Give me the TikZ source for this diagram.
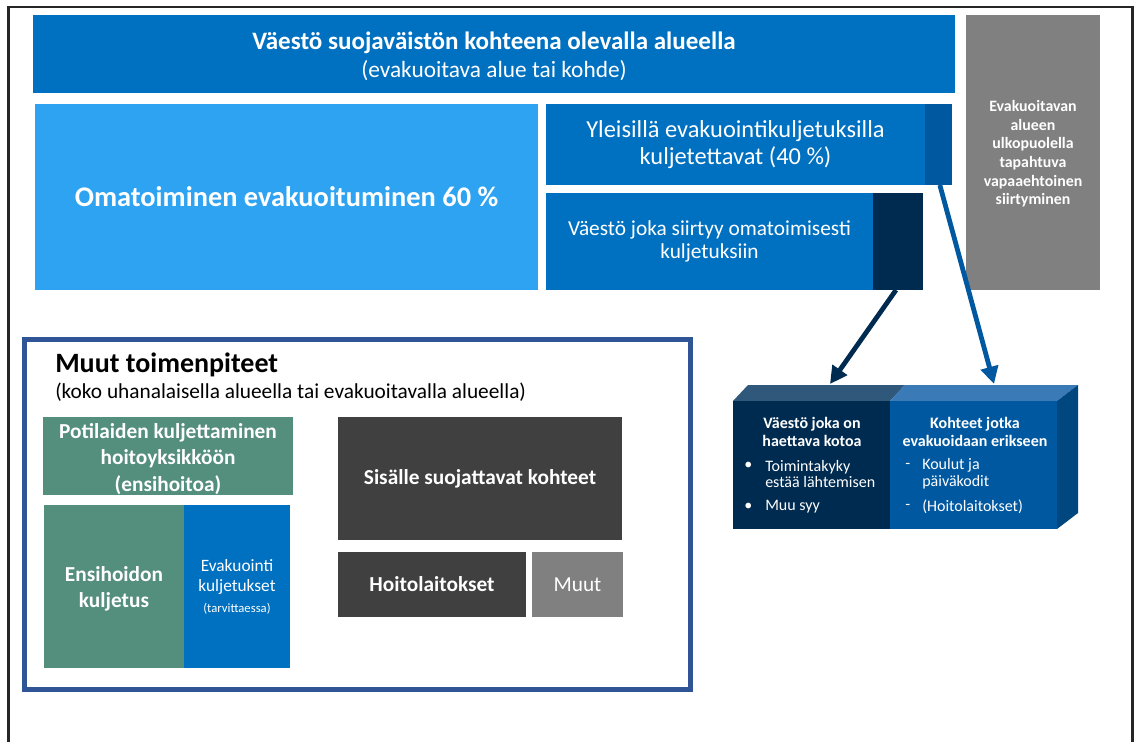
\documentclass[tikz,border=0pt]{standalone}
\usepackage{fontspec}
\setmainfont{Carlito}
\usetikzlibrary{arrows.meta}
\definecolor{cBlue}{RGB}{0,112,192}
\definecolor{cLight}{RGB}{46,163,242}
\definecolor{cStrip}{RGB}{0,88,160}
\definecolor{cNavy}{RGB}{0,43,80}
\definecolor{cGrey}{RGB}{128,128,128}
\definecolor{cFrame}{RGB}{47,85,151}
\definecolor{cGreen}{RGB}{84,142,125}
\definecolor{cDark}{RGB}{64,64,64}
\definecolor{cTopL}{RGB}{48,88,122}
\definecolor{cTopR}{RGB}{58,122,182}
\definecolor{cSide}{RGB}{0,71,127}
\begin{document}
\begin{tikzpicture}[x=0.75pt,y=-0.75pt,
  R/.style n args={4}{at={(#1,#2)},anchor=north west,minimum width=#3*0.75pt,minimum height=#4*0.75pt,inner sep=0pt,outer sep=0pt},
  boxfill/.style={fill=#1,draw=none,text=white,align=center},
  lbl/.style={text=white,align=center,inner sep=0pt},
  arr/.style={line width=3.6pt,-{Triangle[length=13pt,width=13pt]}},
  item/.style={text=white,anchor=west,inner sep=0pt,font=\fontsize{12}{12.5}\selectfont,align=left}]
\useasboundingbox (0,0) rectangle (1136,742);
\fill[white] (0,0) rectangle (1136,742);
% outer frame
\draw[line width=1.8pt,black!85] (8.5,742) -- (8.5,7) -- (1132.5,7) -- (1132.5,742);

% top banner
\node[R={33}{15}{922}{78},boxfill=cBlue] (banner) {};
\node[lbl,font=\fontsize{17.5}{21}\selectfont] (bannerText) at (494,56)
  {{\bfseries\fontsize{18.8}{21}\selectfont Väestö suojaväistön kohteena olevalla alueella}\\(evakuoitava alue tai kohde)};
% omatoiminen
\node[R={35}{104}{503}{186},boxfill=cLight,font=\bfseries\fontsize{21.3}{25}\selectfont] (oma)
  {Omatoiminen evakuoituminen 60 \%};
% yleisilla
\node[R={546}{104}{379}{81},boxfill=cBlue,font=\fontsize{18.3}{20}\selectfont] (yleis)
  {Yleisillä evakuointikuljetuksilla\\kuljetettavat (40 \%)};
\node[R={925}{104}{27}{81},boxfill=cStrip] (yleisStrip) {};
% vaesto joka siirtyy
\node[R={546}{193}{327}{97},boxfill=cBlue,font=\fontsize{16}{17}\selectfont] (siirtyy)
  {Väestö joka siirtyy omatoimisesti\\kuljetuksiin};
\node[R={873}{193}{50}{97},boxfill=cNavy] (siirtyyStrip) {};
% grey box
\node[R={966}{15}{134}{275},boxfill=cGrey] (grey) {};
\node[lbl,font=\bfseries\fontsize{11.9}{14}\selectfont] (greyText) at (1033,154)
  {Evakuoitavan\\alueen\\ulkopuolella\\tapahtuva\\vapaaehtoinen\\siirtyminen};

% Muut toimenpiteet frame
\node[R={24.5}{339.5}{666}{350},draw=cFrame,line width=3.6pt] (muutFrame) {};
\node[anchor=west,inner sep=0pt,font=\bfseries\fontsize{21}{24}\selectfont] (muutTitle) at (55,365) {Muut toimenpiteet};
\node[anchor=west,inner sep=0pt,font=\fontsize{16}{18}\selectfont] (muutSub) at (55,392) {(koko uhanalaisella alueella tai evakuoitavalla alueella)};
\node[R={43}{417}{250}{78},boxfill=cGreen] (potilas) {};
\node[lbl,font=\bfseries\fontsize{16}{19.8}\selectfont] (potilasText) at (168,459)
  {Potilaiden kuljettaminen\\hoitoyksikköön\\(ensihoitoa)};
\node[R={44}{505}{140}{163},boxfill=cGreen] (ensi) {};
\node[lbl,font=\bfseries\fontsize{16}{19.5}\selectfont] (ensiText) at (114,589)
  {Ensihoidon\\kuljetus};
\node[R={184}{505}{106}{163},boxfill=cBlue] (evak) {};
\node[lbl,font=\fontsize{13}{15}\selectfont] (evakText) at (237,587)
  {Evakuointi\\kuljetukset\\[1pt]{\fontsize{9.5}{12}\selectfont (tarvittaessa)}};
\node[R={338}{417}{284}{123},boxfill=cDark,font=\bfseries\fontsize{16}{18}\selectfont] (sisalle)
  {Sisälle suojattavat kohteet};
\node[R={338}{552}{188}{65},boxfill=cDark,font=\bfseries\fontsize{16}{18}\selectfont] (hoito)
  {Hoitolaitokset};
\node[R={532}{552}{91}{65},boxfill=cGrey,font=\fontsize{16}{18}\selectfont] (muut)
  {Muut};

% 3D box
\fill[cTopL] (733,401) -- (748,385) -- (905,385) -- (890,401) -- cycle;
\fill[cTopR] (890,401) -- (905,385) -- (1078,385) -- (1057,401) -- cycle;
\fill[cSide] (1057,401) -- (1078,385) -- (1078,513) -- (1057,529) -- cycle;
\node[R={733}{401}{157}{128},boxfill=cNavy] (kotoa) {};
\node[R={890}{401}{167}{128},boxfill=cStrip] (kohteet) {};
\node[lbl,font=\bfseries\fontsize{12}{13}\selectfont] (kotoaT) at (812,432) {Väestö joka on\\haettava kotoa};
\node[lbl,font=\bfseries\fontsize{12}{13}\selectfont] (kohteetT) at (975,432) {Kohteet jotka\\evakuoidaan erikseen};
\node[item] (b1) at (744,466) {•};
\node[item] (t1) at (765,474) {Toimintakyky\\estää lähtemisen};
\node[item] (b2) at (744,507) {•};
\node[item] (t2) at (765,507) {Muu syy};
\node[item] (d1) at (905,466) {-};
\node[item] (u1) at (922,474) {Koulut ja\\päiväkodit};
\node[item] (d2) at (905,507) {-};
\node[item] (u2) at (922,507) {(Hoitolaitokset)};

% arrows
\coordinate (tip1) at (830,384);
\coordinate (tip2) at (994,384);
\draw[arr,cNavy] ([xshift=-1.5pt]siirtyyStrip.south) -- (tip1);
\draw[arr,cStrip] ([xshift=1pt]yleisStrip.south) -- (tip2);
\end{tikzpicture}
\end{document}
